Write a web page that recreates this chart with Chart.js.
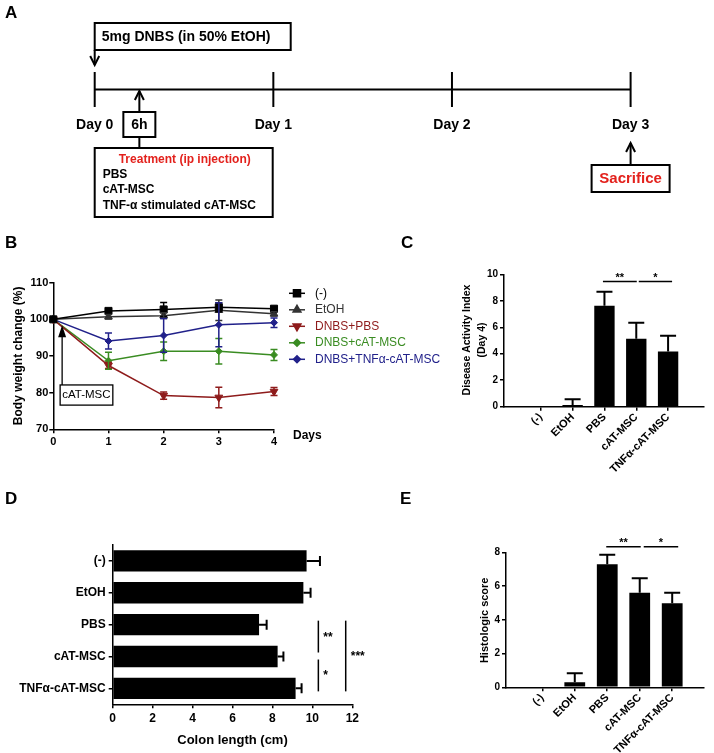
<!DOCTYPE html>
<html><head><meta charset="utf-8">
<script src="https://cdn.jsdelivr.net/npm/chart.js@4.4.1/dist/chart.umd.min.js"></script>
<style>
html,body{margin:0;padding:0;background:#fff}
body{position:relative;width:714px;height:753px;overflow:hidden}
canvas{position:absolute;display:block}
</style></head><body>
<canvas id="cA" width="714" height="222" style="left:0;top:0"></canvas>
<canvas id="cB" width="470" height="225" style="left:0;top:225px"></canvas>
<canvas id="cC" width="314" height="250" style="left:400px;top:225px"></canvas>
<canvas id="cD" width="400" height="283" style="left:0;top:470px"></canvas>
<canvas id="cE" width="314" height="283" style="left:400px;top:470px"></canvas>
<script>
// ================= DATA =================
// Panel A - experimental timeline
const timelineDays = [0, 1, 2, 3];
const timelineLabels = ['Day 0', 'Day 1', 'Day 2', 'Day 3'];
const injectionDay = 0.25;           // 6 h after DNBS
const sacrificeDay = 3;
const treatmentItems = ['PBS', 'cAT-MSC', 'TNF-α stimulated cAT-MSC'];

// Panel B - body weight change (%)
const bwDays = [0, 1, 2, 3, 4];
const bwSeries = ['(-)', 'EtOH', 'DNBS+PBS', 'DNBS+cAT-MSC', 'DNBS+TNFα-cAT-MSC'];
const bwNeg    = [100, 102.3, 102.7, 103.3, 102.9];
const bwNegErr = [0, 0.5, 1.9, 1.2, 0.6];
const bwEtOH    = [100, 100.7, 101.0, 102.5, 101.5];
const bwEtOHErr = [0, 0.6, 0.8, 2.8, 0.6];
const bwPBS    = [100, 87.4, 79.2, 78.7, 80.3];
const bwPBSErr = [0, 0.8, 1.0, 2.8, 1.1];
const bwCAT    = [100, 88.7, 91.3, 91.3, 90.3];
const bwCATErr = [0, 2.3, 2.5, 3.5, 1.5];
const bwTNF    = [100, 94.1, 95.6, 98.5, 99.1];
const bwTNFErr = [0, 2.2, 4.6, 6.0, 1.3];
const bwInjectionDay = 0.16;

// Panels C, D, E - groups
const groupLabels = ['(-)', 'EtOH', 'PBS', 'cAT-MSC', 'TNFα-cAT-MSC'];
const daiMean = [0, 0.12, 7.63, 5.14, 4.16];
const daiSEM  = [0, 0.45, 1.05, 1.20, 1.20];
const colonMean = [9.71, 9.55, 7.33, 8.26, 9.16];
const colonSEM  = [0.67, 0.36, 0.38, 0.29, 0.30];
const histoMean = [0, 0.30, 7.29, 5.61, 4.98];
const histoSEM  = [0, 0.53, 0.56, 0.85, 0.63];
const sigPairsCE = [[2, 3, '**'], [3, 4, '*']];
const sigPairsD  = [[2, 3, '**'], [3, 4, '*'], [2, 4, '***']];

// ================= STYLE =================
const FONT = '"Liberation Sans", Arial, Helvetica, sans-serif';
const RED = '#e3211c';
Chart.defaults.font.family = FONT;
Chart.defaults.color = '#000';

function txt(ctx, s, x, y, size, o) {
  o = o || {};
  ctx.save();
  ctx.font = (o.bold === false ? '' : 'bold ') + size + 'px ' + FONT;
  ctx.fillStyle = o.color || '#000';
  ctx.textAlign = o.align || 'center';
  ctx.textBaseline = o.base || 'middle';
  ctx.translate(x, y);
  if (o.rot) ctx.rotate(o.rot);
  ctx.fillText(s, 0, 0);
  ctx.restore();
}
function seg(ctx, x1, y1, x2, y2) { ctx.beginPath(); ctx.moveTo(x1, y1); ctx.lineTo(x2, y2); ctx.stroke(); }
function arrow(ctx, x, yFrom, yTo, filled, hw, hl) {
  const dir = Math.sign(yTo - yFrom);
  ctx.beginPath(); ctx.moveTo(x, yFrom); ctx.lineTo(x, filled ? yTo - dir * hl * 0.7 : yTo); ctx.stroke();
  ctx.beginPath(); ctx.moveTo(x - hw, yTo - dir * hl); ctx.lineTo(x, yTo); ctx.lineTo(x + hw, yTo - dir * hl);
  if (filled) { ctx.closePath(); ctx.fill(); } else ctx.stroke();
}
function marker(ctx, style, r, rot, x, y) {
  if (Chart.helpers && Chart.helpers.drawPoint) {
    Chart.helpers.drawPoint(ctx, { pointStyle: style, radius: r, rotation: rot, borderWidth: 1 }, x, y);
    return;
  }
  ctx.beginPath(); ctx.arc(x, y, r * 0.8, 0, Math.PI * 2); ctx.fill();
}
const baseOpts = { responsive: false, devicePixelRatio: 1, animation: false, events: [],
  plugins: { legend: { display: false }, tooltip: { enabled: false } } };
function axis(extra) {
  return Object.assign({
    grid: { drawOnChartArea: false, drawTicks: true, tickLength: 4, color: '#000', lineWidth: 1.5, offset: false },
    border: { display: true, color: '#000', width: 1.5 }
  }, extra);
}

// error bar plugin (reads dataset.errors)
const errorBars = {
  id: 'errorBars',
  afterDatasetsDraw(chart) {
    const ctx = chart.ctx, horiz = chart.options.indexAxis === 'y';
    chart.data.datasets.forEach((ds, di) => {
      if (!ds.errors) return;
      const meta = chart.getDatasetMeta(di);
      const vs = horiz ? chart.scales.x : chart.scales.y;
      ctx.save();
      ctx.strokeStyle = ds.errorColor || '#000';
      ctx.lineWidth = ds.errorWidth || 1.5;
      const cap = ds.errorCap || 4;
      meta.data.forEach((el, i) => {
        const raw = ds.data[i];
        const v = (typeof raw === 'object') ? (horiz ? raw.x : raw.y) : raw;
        const e = ds.errors[i];
        if (!e) return;
        const p1 = vs.getPixelForValue(ds.oneSided ? v : v - e), p2 = vs.getPixelForValue(v + e);
        ctx.beginPath();
        if (horiz) {
          const y = el.y;
          ctx.moveTo(p1, y); ctx.lineTo(p2, y); ctx.moveTo(p2, y - cap); ctx.lineTo(p2, y + cap);
          if (!ds.oneSided) { ctx.moveTo(p1, y - cap); ctx.lineTo(p1, y + cap); }
        } else {
          const x = el.x;
          ctx.moveTo(x, p1); ctx.lineTo(x, p2); ctx.moveTo(x - cap, p2); ctx.lineTo(x + cap, p2);
          if (!ds.oneSided) { ctx.moveTo(x - cap, p1); ctx.lineTo(x + cap, p1); }
        }
        ctx.stroke();
      });
      ctx.restore();
    });
  }
};

// ================= PANEL A =================
const panelA = {
  id: 'panelA',
  afterDraw(chart) {
    const ctx = chart.ctx, xs = chart.scales.x, ys = chart.scales.y;
    const px = d => xs.getPixelForValue(d), ty = ys.getPixelForValue(0);
    ctx.save();
    ctx.strokeStyle = '#000'; ctx.fillStyle = '#000'; ctx.lineWidth = 2;
    txt(ctx, 'A', 5, 13, 17, { align: 'left' });
    const x0 = px(timelineDays[0]);
    ctx.strokeRect(x0, 23, 196, 27);
    txt(ctx, '5mg DNBS (in 50% EtOH)', x0 + 7, 37, 14, { align: 'left' });
    arrow(ctx, x0, 50, ty - 24.5, false, 4.5, 9);
    timelineDays.forEach((d, i) => txt(ctx, timelineLabels[i], px(d), 125, 14));
    const xi = px(injectionDay);
    ctx.strokeRect(xi - 16, 112, 32, 25);
    txt(ctx, '6h', xi, 125, 14);
    arrow(ctx, xi, 112, ty + 1.5, false, 4.5, 9);
    seg(ctx, xi, 137, xi, 148);
    ctx.strokeRect(x0, 148, 178, 69);
    txt(ctx, 'Treatment (ip injection)', x0 + 90, 160, 12, { color: RED });
    treatmentItems.forEach((t, i) => txt(ctx, t, x0 + 8, 174.5 + 15.5 * i, 12, { align: 'left' }));
    const xs3 = px(sacrificeDay);
    ctx.strokeRect(xs3 - 39, 165, 78, 27);
    txt(ctx, 'Sacrifice', xs3, 179, 15, { color: RED });
    arrow(ctx, xs3, 165, 143, false, 4.5, 9);
    ctx.restore();
  }
};
new Chart(document.getElementById('cA'), {
  type: 'scatter',
  data: { datasets: [
    { data: [{ x: timelineDays[0], y: 0 }, { x: timelineDays[timelineDays.length - 1], y: 0 }],
      showLine: true, borderColor: '#000', borderWidth: 2, pointRadius: 0, clip: false },
    { data: timelineDays.map(d => ({ x: d, y: 0 })), showLine: false, pointStyle: 'line', pointRotation: 90,
      pointRadius: 17.5, pointBorderWidth: 2, pointBorderColor: '#000', clip: false }
  ] },
  options: Object.assign({}, baseOpts, {
    layout: { autoPadding: false, padding: { left: 94.7, right: 83.4, top: 72, bottom: 115 } },
    scales: { x: { type: 'linear', min: 0, max: 3, display: false }, y: { type: 'linear', min: -1, max: 1, display: false } }
  }),
  plugins: [panelA]
});

// ================= PANEL B =================
const bwValues = [bwNeg, bwEtOH, bwPBS, bwCAT, bwTNF];
const bwErrors = [bwNegErr, bwEtOHErr, bwPBSErr, bwCATErr, bwTNFErr];
const bwColors = ['#000000', '#333333', '#8e1b1b', '#3a8c22', '#21218a'];
const bwMarkers = ['rect', 'triangle', 'triangle', 'rectRot', 'rectRot'];
const bwMarkerSize = [5, 4.5, 4.5, 3.5, 3.5];
const bwMarkerRot = [0, 0, 180, 0, 0];
const panelB = {
  id: 'panelB',
  afterDraw(chart) {
    const ctx = chart.ctx, xs = chart.scales.x, ys = chart.scales.y;
    ctx.save();
    txt(ctx, 'B', 5, 18, 17, { align: 'left' });
    txt(ctx, 'Body weight change (%)', 19, 130.8, 12, { rot: -Math.PI / 2 });
    txt(ctx, 'Days', 293, 211, 12, { align: 'left' });
    // legend
    bwSeries.forEach((s, i) => {
      const y = 68.3 + 16.5 * i;
      ctx.strokeStyle = bwColors[i]; ctx.fillStyle = bwColors[i]; ctx.lineWidth = 1.5;
      seg(ctx, 289, y, 305, y);
      marker(ctx, bwMarkers[i], bwMarkerSize[i], bwMarkerRot[i], 297, y);
      txt(ctx, s, 315, y, 12, { align: 'left', bold: false, color: bwColors[i] });
    });
    // injection annotation
    const ax = xs.getPixelForValue(bwInjectionDay);
    const tip = ys.getPixelForValue(98.4);
    const bTop = ys.getPixelForValue(82.1), bBot = ys.getPixelForValue(76.6);
    ctx.strokeStyle = '#000'; ctx.fillStyle = '#000'; ctx.lineWidth = 1.3;
    arrow(ctx, ax, bTop, tip, true, 4, 12);
    ctx.strokeRect(ax - 2, bTop, 52.7, bBot - bTop);
    txt(ctx, 'cAT-MSC', ax - 2 + 26.3, (bTop + bBot) / 2, 11.5, { bold: false });
    ctx.restore();
  }
};
new Chart(document.getElementById('cB'), {
  type: 'line',
  data: { datasets: bwSeries.map((s, i) => ({
    label: s,
    data: bwDays.map((d, j) => ({ x: d, y: bwValues[i][j] })),
    errors: bwErrors[i], errorColor: bwColors[i], errorCap: 3.5, errorWidth: 1.5,
    borderColor: bwColors[i], backgroundColor: bwColors[i], borderWidth: 1.5, tension: 0,
    pointStyle: bwMarkers[i], pointRadius: bwMarkerSize[i], pointRotation: bwMarkerRot[i],
    pointBackgroundColor: bwColors[i], pointBorderColor: bwColors[i], pointBorderWidth: 1, clip: false
  })) },
  options: Object.assign({}, baseOpts, {
    layout: { autoPadding: false, padding: { left: 0, right: 196, top: 57.7, bottom: 0 } },
    scales: {
      x: axis({ type: 'linear', min: 0, max: 4,
        ticks: { stepSize: 1, font: { size: 11, weight: 'bold' }, padding: 2, color: '#000' },
        afterFit(s) { s.height = 20.7; } }),
      y: axis({ type: 'linear', min: 70, max: 110,
        ticks: { stepSize: 10, font: { size: 11, weight: 'bold' }, padding: 1, color: '#000' },
        afterFit(s) { s.width = 53.3; } })
    }
  }),
  plugins: [errorBars, panelB]
});

// ================= PANELS C & E (vertical bars) =================
function groupAxisX(min, max, h) {
  return axis({ type: 'linear', min: min, max: max,
    afterBuildTicks(s) { s.ticks = groupLabels.map((_, i) => ({ value: i })); },
    ticks: { autoSkip: false, minRotation: 45, maxRotation: 45, padding: 0, color: '#000',
      font: { size: 11, weight: 'bold' }, callback: v => groupLabels[v] },
    afterFit(s) { s.height = h; } });
}
function sigDraw(ctx, xs, ys, level, startOff, endOff) {
  ctx.save(); ctx.strokeStyle = '#000'; ctx.lineWidth = 1.5;
  sigPairsCE.forEach((p, k) => {
    const x1 = xs.getPixelForValue(p[0]) + startOff[k], x2 = xs.getPixelForValue(p[1]) + endOff[k];
    const y = ys.getPixelForValue(level);
    seg(ctx, x1, y, x2, y);
    txt(ctx, p[2], (x1 + x2) / 2, y - 1, 11, { base: 'alphabetic' });
  });
  ctx.restore();
}
new Chart(document.getElementById('cC'), {
  type: 'bar',
  data: { datasets: [{ data: daiMean.map((v, i) => ({ x: i, y: v })), errors: daiSEM, oneSided: true,
    errorCap: 8, errorWidth: 2, backgroundColor: '#000', borderWidth: 0, barPercentage: 0.64, categoryPercentage: 1 }] },
  options: Object.assign({}, baseOpts, {
    layout: { autoPadding: false, padding: { left: 0, right: 10, top: 49.3, bottom: 0 } },
    scales: {
      x: groupAxisX(-0.528, 4.5, 68.3),
      y: axis({ min: 0, max: 10, ticks: { stepSize: 2, font: { size: 10, weight: 'bold' }, padding: 2, color: '#000' },
        afterFit(s) { s.width = 104; } })
    }
  }),
  plugins: [errorBars, { id: 'decoC', afterDraw(chart) {
    const ctx = chart.ctx;
    txt(ctx, 'C', 1, 18, 17, { align: 'left' });
    txt(ctx, 'Disease Activity Index', 67, 115, 10.5, { rot: -Math.PI / 2 });
    txt(ctx, '(Day 4)', 82, 115, 10.5, { rot: -Math.PI / 2 });
    sigDraw(ctx, chart.scales.x, chart.scales.y, 9.45, [-1.5, 2.5], [0.5, 4]);
  } }]
});
new Chart(document.getElementById('cE'), {
  type: 'bar',
  data: { datasets: [{ data: histoMean.map((v, i) => ({ x: i, y: v })), errors: histoSEM, oneSided: true,
    errorCap: 8, errorWidth: 2, backgroundColor: '#000', borderWidth: 0, barPercentage: 0.64, categoryPercentage: 1 }] },
  options: Object.assign({}, baseOpts, {
    layout: { autoPadding: false, padding: { left: 0, right: 10.7, top: 82.3, bottom: 0 } },
    scales: {
      x: groupAxisX(-0.51, 4.35, 65.7),
      y: axis({ min: 0, max: 8, ticks: { stepSize: 2, font: { size: 10, weight: 'bold' }, padding: 2, color: '#000' },
        afterFit(s) { s.width = 106; } })
    }
  }),
  plugins: [errorBars, { id: 'decoE', afterDraw(chart) {
    const ctx = chart.ctx;
    txt(ctx, 'E', 0, 29, 17, { align: 'left' });
    txt(ctx, 'Histologic score', 85, 150.3, 11, { rot: -Math.PI / 2 });
    sigDraw(ctx, chart.scales.x, chart.scales.y, 8.33, [-1, 4], [1, 6]);
  } }]
});

// ================= PANEL D (horizontal bars) =================
const sigXD = [10.3, 10.3, 11.67];
const sigStartOffD = [-4, 3, -4];
const sigEndOffD = [-4, 3, 3];
new Chart(document.getElementById('cD'), {
  type: 'bar',
  data: { labels: groupLabels, datasets: [{ data: colonMean, errors: colonSEM, oneSided: true,
    errorCap: 5, errorWidth: 2, backgroundColor: '#000', borderWidth: 0, barPercentage: 0.67, categoryPercentage: 1 }] },
  options: Object.assign({}, baseOpts, {
    indexAxis: 'y',
    layout: { autoPadding: false, padding: { left: 0, right: 47.7, top: 75, bottom: 0 } },
    scales: {
      x: axis({ type: 'linear', min: 0, max: 12, ticks: { stepSize: 2, font: { size: 12, weight: 'bold' }, padding: 3, color: '#000' },
        afterFit(s) { s.height = 48.7; } }),
      y: axis({ ticks: { font: { size: 12, weight: 'bold' }, padding: 3, color: '#000' },
        afterFit(s) { s.width = 112.7; } })
    }
  }),
  plugins: [errorBars, { id: 'decoD', afterDraw(chart) {
    const ctx = chart.ctx, xs = chart.scales.x, ys = chart.scales.y;
    txt(ctx, 'D', 5, 29, 17, { align: 'left' });
    txt(ctx, 'Colon length (cm)', (chart.chartArea.left + chart.chartArea.right) / 2, 270.7, 13);
    ctx.save(); ctx.strokeStyle = '#000'; ctx.lineWidth = 1.5;
    sigPairsD.forEach((p, k) => {
      const x = xs.getPixelForValue(sigXD[k]);
      const y1 = ys.getPixelForValue(p[0]) + sigStartOffD[k], y2 = ys.getPixelForValue(p[1]) + sigEndOffD[k];
      seg(ctx, x, y1, x, y2);
      txt(ctx, p[2], x + 5, (y1 + y2) / 2 + 4, 12, { align: 'left', base: 'alphabetic' });
    });
    ctx.restore();
  } }]
});
</script></body></html>
